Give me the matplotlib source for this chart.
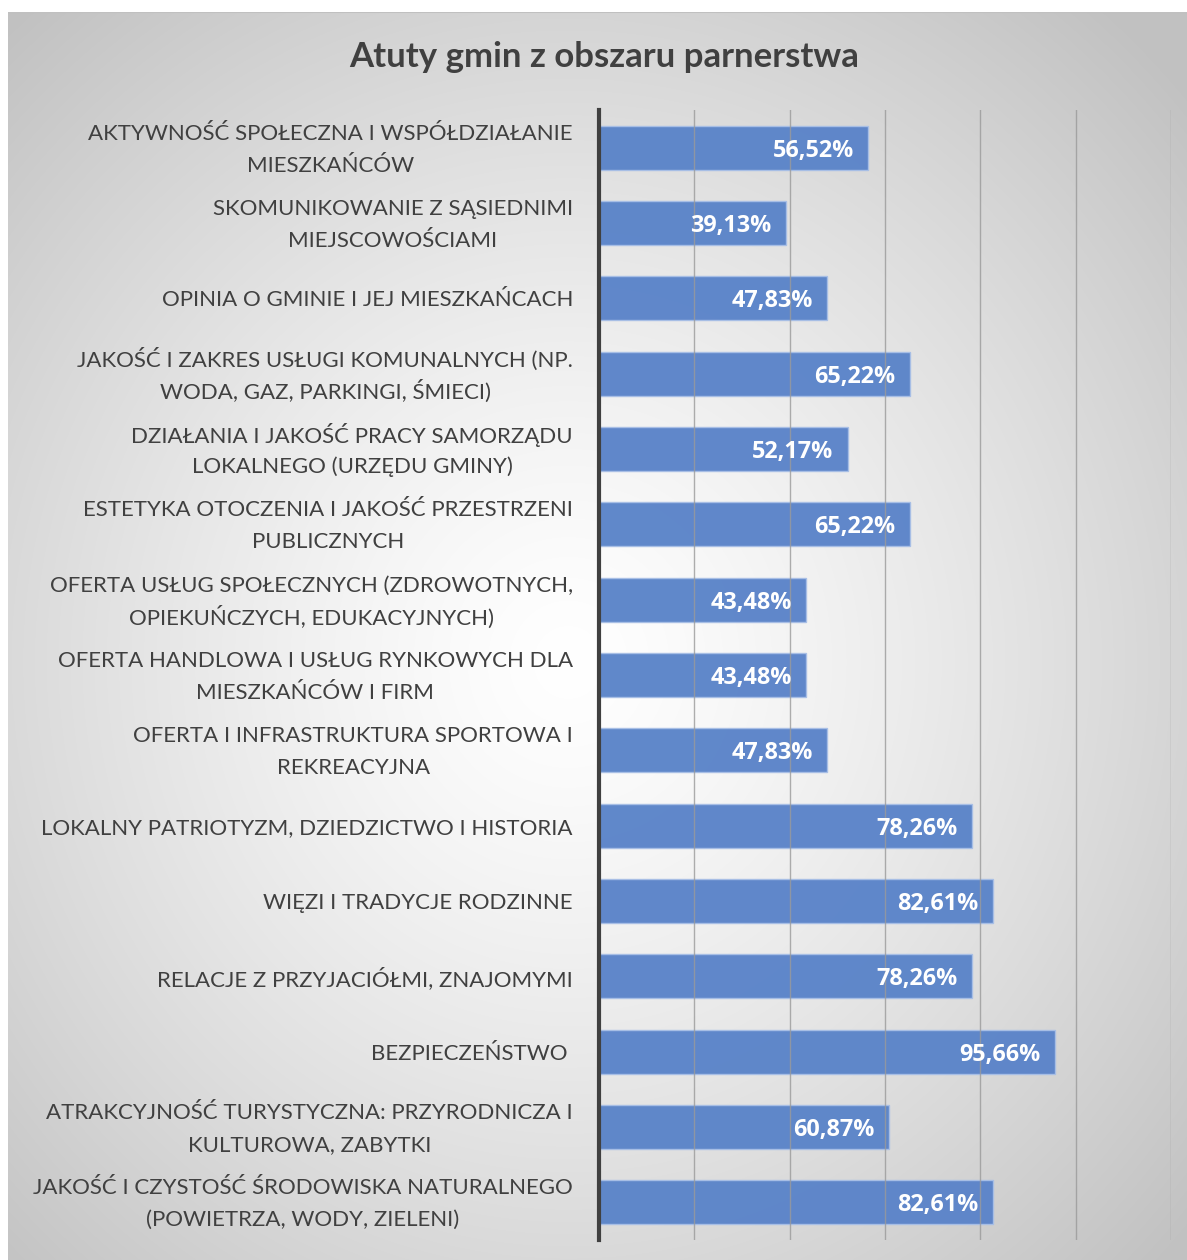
import matplotlib
matplotlib.use("Agg")
import matplotlib.pyplot as plt
import matplotlib.transforms as mtransforms
import numpy as np

categories = [
    "AKTYWNOŚĆ SPOŁECZNA I WSPÓŁDZIAŁANIE\nMIESZKAŃCÓW",
    "SKOMUNIKOWANIE Z SĄSIEDNIMI\nMIEJSCOWOŚCIAMI",
    "OPINIA O GMINIE I JEJ MIESZKAŃCACH",
    "JAKOŚĆ I ZAKRES USŁUGI KOMUNALNYCH (NP.\nWODA, GAZ, PARKINGI, ŚMIECI)",
    "DZIAŁANIA I JAKOŚĆ PRACY SAMORZĄDU\nLOKALNEGO (URZĘDU GMINY)",
    "ESTETYKA OTOCZENIA I JAKOŚĆ PRZESTRZENI\nPUBLICZNYCH",
    "OFERTA USŁUG SPOŁECZNYCH (ZDROWOTNYCH,\nOPIEKUŃCZYCH, EDUKACYJNYCH)",
    "OFERTA HANDLOWA I USŁUG RYNKOWYCH DLA\nMIESZKAŃCÓW I FIRM",
    "OFERTA I INFRASTRUKTURA SPORTOWA I\nREKREACYJNA",
    "LOKALNY PATRIOTYZM, DZIEDZICTWO I HISTORIA",
    "WIĘZI I TRADYCJE RODZINNE",
    "RELACJE Z PRZYJACIÓŁMI, ZNAJOMYMI",
    "BEZPIECZEŃSTWO ",
    "ATRAKCYJNOŚĆ TURYSTYCZNA: PRZYRODNICZA I\nKULTUROWA, ZABYTKI",
    "JAKOŚĆ I CZYSTOŚĆ ŚRODOWISKA NATURALNEGO\n(POWIETRZA, WODY, ZIELENI)",
]
values = [56.52, 39.13, 47.83, 65.22, 52.17, 65.22, 43.48, 43.48, 47.83,
          78.26, 82.61, 78.26, 95.66, 60.87, 82.61]
xticks = [0, 20, 40, 60, 80, 100, 120]
title = "Atuty gmin z obszaru parnerstwa"

FONT = ["Lato", "DejaVu Sans"]
W, H = 1187, 1260
fig = plt.figure(figsize=(W / 100, H / 100), dpi=100)
fig.patch.set_facecolor("white")

# background panel with radial gradient
bg = fig.add_axes([8 / W, 0, 1 - 8 / W, 1 - 12 / H])
bg.set_axis_off()
yy, xx = np.mgrid[0:1248, 0:1179]
cx, cy = 560, 650
r = np.sqrt(((xx - cx) / 820.0) ** 2 + ((yy - cy) / 860.0) ** 2)
r = np.clip(r, 0, 1)
val = 1.0 - 0.24 * r ** 1.3
img = np.dstack([val, val, val])
bg.imshow(img, aspect="auto", extent=[0, 1, 0, 1], interpolation="bilinear")
bg.set_xlim(0, 1)
bg.set_ylim(0, 1)
bg.plot([0, 1], [1, 1], color="#c0c0c0", lw=1.5)

ax = fig.add_axes([599 / W, 20 / H, (1171 - 599) / W, (1240 - 110) / H])
ax.patch.set_alpha(0)
y = np.arange(len(categories))
ax.barh(y, values, height=0.585, color="#5b84c9", edgecolor="#a8bfe6",
        linewidth=1.0, alpha=0.97, zorder=2)
ax.set_xlim(0, 120)
ax.set_ylim(len(categories) - 0.5, -0.5)
ax.set_xticks(xticks)
ax.xaxis.grid(True, color="#9a9a9a", lw=1.0, alpha=0.8, zorder=3)
ax.set_axisbelow(False)
ax.tick_params(axis="x", length=0, labelbottom=False)
ax.tick_params(axis="y", length=0, labelleft=False)
ax.set_yticks(y)
for s in ["top", "right", "bottom"]:
    ax.spines[s].set_visible(False)
ax.spines["left"].set_color("#404040")
ax.spines["left"].set_linewidth(3)
ax.spines["left"].set_zorder(5)

# category labels, lines placed individually for even spacing
blend = mtransforms.blended_transform_factory(ax.transAxes, ax.transData)
LS = 32  # px between lines
YOFF = -2
label_groups = []
for yi, cat in zip(y, categories):
    lines = cat.split("\n")
    n = len(lines)
    group = []
    for i, ln in enumerate(lines):
        off = -(i - (n - 1) / 2) * LS
        tr = mtransforms.offset_copy(blend, fig=fig, x=-26, y=off + YOFF,
                                     units="dots")
        t = ax.text(0, yi, ln, transform=tr, ha="right", va="center",
                    fontsize=16.0, color="#404040", family=FONT)
        group.append((t, off))
    label_groups.append(group)

# centre lines of each label relative to the widest line
fig.canvas.draw()
renderer = fig.canvas.get_renderer()
for group in label_groups:
    if len(group) > 1:
        widths = [t.get_window_extent(renderer).width for t, _ in group]
        wmax = max(widths)
        for (t, off), w in zip(group, widths):
            shift = (wmax - w) / 2
            t.set_transform(mtransforms.offset_copy(
                blend, fig=fig, x=-26 - shift, y=off + YOFF, units="dots"))

val_tr = mtransforms.offset_copy(ax.transData, fig=fig, x=0, y=-3,
                                 units="dots")
for yi, v in zip(y, values):
    lab = f"{v:.2f}%".replace(".", ",")
    ax.text(v - 3.0, yi, lab, ha="right", va="center", color="white",
            fontsize=16.8, fontweight="bold", transform=val_tr,
            family=["Open Sans", "DejaVu Sans"], zorder=6)

fig.text(604 / W, 1 - 57 / H, title, ha="center", va="center", fontsize=25,
         fontweight="bold", color="#404040", family=FONT)

fig.savefig("out.png", dpi=100)
